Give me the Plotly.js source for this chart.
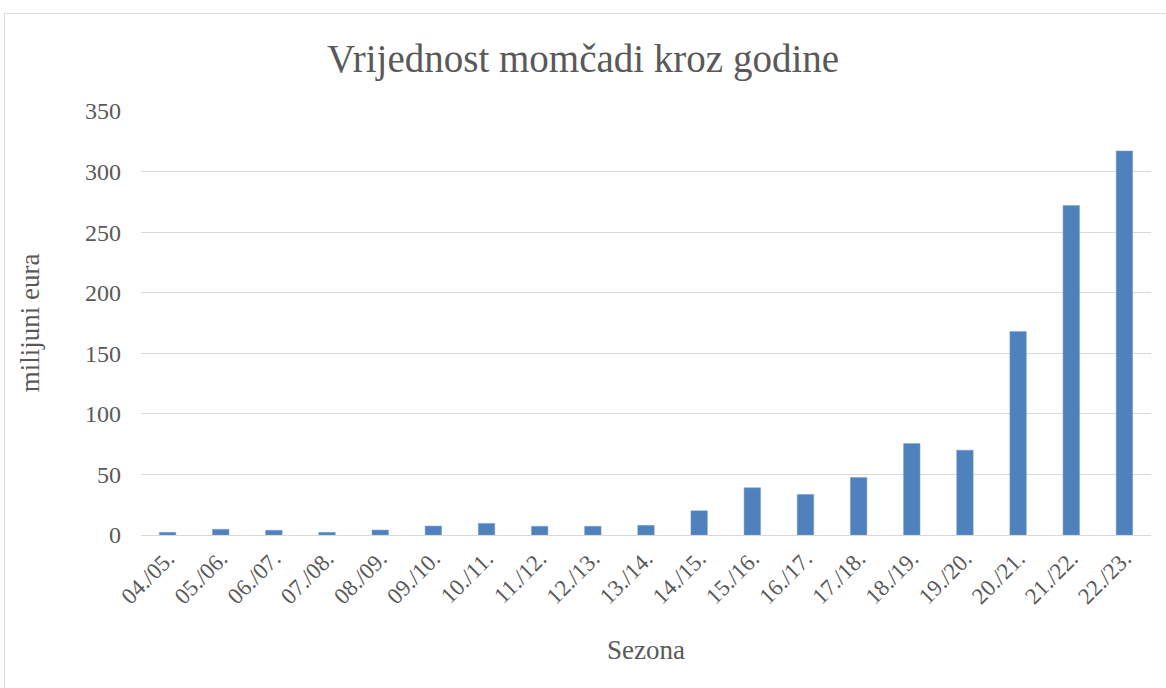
<!DOCTYPE html>
<html><head><meta charset="utf-8">
<script src="https://cdn.plot.ly/plotly-3.0.1.min.js"></script>
<style>body{margin:0;background:#fff}#frame{position:absolute;left:4px;top:13px;width:1170px;height:690px;border:1px solid #d9d9d9;pointer-events:none}</style>
</head><body>
<div id="chart" style="width:1166px;height:688px"></div>
<div id="frame"></div>
<script>
const seasons = ["04./05.","05./06.","06./07.","07./08.","08./09.","09./10.","10./11.","11./12.","12./13.","13./14.","14./15.","15./16.","16./17.","17./18.","18./19.","19./20.","20./21.","21./22.","22./23."];
const values = [2.2,4.7,3.9,2.2,4.1,7.4,9.6,7.2,7.2,8,20,39,33.5,47.5,75.5,70,168,272,317];
const font = "'Liberation Serif', 'DejaVu Serif', serif";
Plotly.newPlot('chart', [{
  type:'bar', x:seasons, y:values,
  marker:{color:'#4f81bd', line:{color:'#7c9fcf', width:0.5}},
  hoverinfo:'x+y'
}], {
  width:1166, height:688,
  margin:{l:141, r:15, t:111, b:153},
  paper_bgcolor:'#fff', plot_bgcolor:'#fff',
  bargap:0.69,
  title:{text:'Vrijednost momčadi kroz godine', font:{family:font, size:39, color:'#595959'}, x:0.5, xanchor:'center', y:0.915, yanchor:'middle'},
  xaxis:{title:{text:'Sezona', font:{family:font, size:27, color:'#595959'}, standoff:32},
    tickangle:-45, tickfont:{family:font, size:23, color:'#595959'},
    showgrid:false, showline:true, linecolor:'#d9d9d9', linewidth:1, ticks:'', automargin:false},
  yaxis:{title:{text:'milijuni eura', font:{family:font, size:27, color:'#595959'}, standoff:37},
    range:[0,350], dtick:50, tickfont:{family:font, size:24, color:'#595959'}, ticklabelstandoff:19,
    gridcolor:'#d9d9d9', gridwidth:1, zeroline:true, zerolinecolor:'#d9d9d9', showline:false, ticks:'', ticklen:0, automargin:false},
  showlegend:false
}, {displayModeBar:false});
</script>
</body></html>
